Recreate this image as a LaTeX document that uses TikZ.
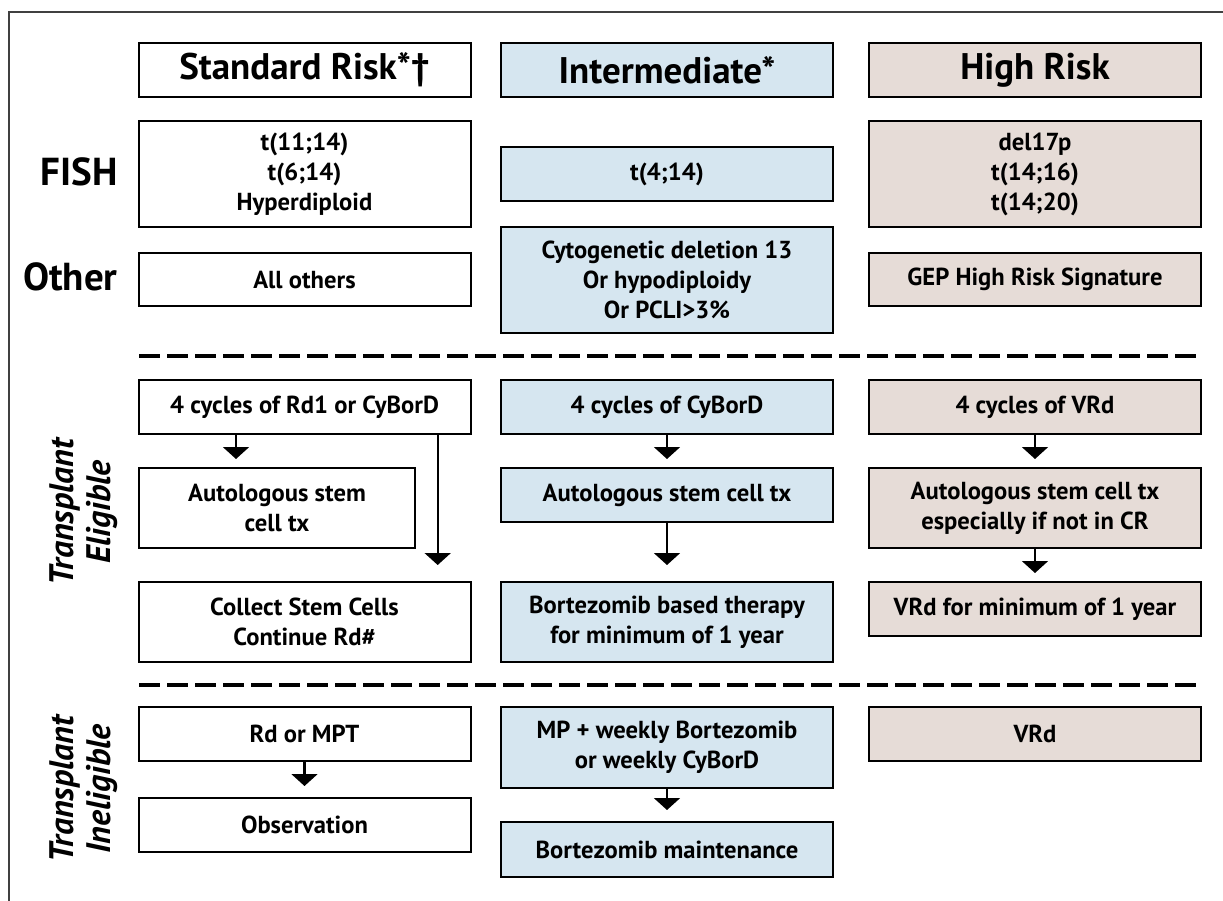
\documentclass[tikz,border=0pt]{standalone}
\usepackage{fontspec}
\setmainfont{PT Sans}
\usetikzlibrary{arrows.meta}

\definecolor{interblue}{RGB}{214,230,240}
\definecolor{highrose}{RGB}{230,220,215}

\tikzset{
  box/.style={draw, line width=1pt, align=center, inner sep=0pt, minimum width=166pt,
    font=\fontsize{12.3}{15}\selectfont\bfseries},
  head/.style={box, minimum height=27pt, font=\fontsize{18.5}{22}\selectfont\bfseries},
  inter/.style={fill=interblue},
  high/.style={fill=highrose},
  flow/.style={-{Triangle[width=13pt,length=6pt]}, line width=1.1pt, shorten >=4pt},
  sep/.style={line width=2pt, dash pattern=on 10.3pt off 3.7pt},
  side/.style={anchor=east, inner sep=0pt, font=\fontsize{19.5}{22}\selectfont\bfseries},
  lane/.style={rotate=90, align=center, inner sep=0pt, font=\fontsize{17}{18.5}\selectfont\bfseries\itshape}
}

\begin{document}
\begin{tikzpicture}[x=0.5pt, y=-0.5pt]
  \useasboundingbox (0,0) rectangle (1223,901);
  \draw[line width=0.6pt, black!75] (9,901) -- (9,12) -- (1223,12);

  % risk groups
  \node[head] (std) at (304.5,70) {Standard Risk*†};
  \node[head, inter] (int) at (667,70) {Intermediate*};
  \node[head, high] (hig) at (1035,70) {High Risk};

  % FISH and other findings
  \node[side] (fish) at (118,172) {FISH};
  \node[side] (other) at (118,277) {Other};
  \node[box, minimum height=53pt] (fishstd) at (304.5,174) {t(11;14)\\t(6;14)\\Hyperdiploid};
  \node[box, inter, minimum height=27pt] (fishint) at (667,174) {t(4;14)};
  \node[box, high, minimum height=53pt] (fishhig) at (1035,174) {del17p\\t(14;16)\\t(14;20)};
  \node[box, minimum height=26.5pt] (othstd) at (304.5,279.5) {All others};
  \node[box, inter, minimum height=53pt] (othint) at (667,280) {Cytogenetic deletion 13\\Or hypodiploidy\\Or PCLI>3\%};
  \node[box, high, minimum height=26.5pt] (othhig) at (1035,279.5) {GEP High Risk Signature};

  \draw[sep] (139,356) -- (1201,356);

  % transplant eligible
  \node[lane] (elig) at (84,512) {Transplant\\Eligible};
  \node[box, minimum height=27pt] (testd) at (304.5,407) {4 cycles of Rd1 or CyBorD};
  \node[box, minimum height=40pt, minimum width=138pt] (testdb) at (277,508) {Autologous stem\\cell tx};
  \node[box, minimum height=40pt] (testdc) at (304.5,622) {Collect Stem Cells\\Continue Rd\#};
  \node[box, inter, minimum height=27pt] (teint) at (667,407) {4 cycles of CyBorD};
  \node[box, inter, minimum height=27pt] (teintb) at (667,495) {Autologous stem cell tx};
  \node[box, inter, minimum height=40pt] (teintc) at (667,622) {Bortezomib based therapy\\for minimum of 1 year};
  \node[box, high, minimum height=27pt] (tehig) at (1035,407) {4 cycles of VRd};
  \node[box, high, minimum height=40pt] (tehigb) at (1035,508) {Autologous stem cell tx\\especially if not in CR};
  \node[box, high, minimum height=27pt] (tehigc) at (1035,609) {VRd for minimum of 1 year};

  \coordinate (stdshort) at (236,0);
  \coordinate (stdlong) at (437.7,0);
  \draw[flow] (testd.south -| stdshort) -- (testdb.north -| stdshort);
  \draw[flow, shorten >=8pt] (testd.south -| stdlong) -- (testdc.north -| stdlong);
  \draw[flow] (teint.south) -- (teintb.north);
  \draw[flow, shorten >=8pt] (teintb.south) -- (teintc.north);
  \draw[flow] (tehig.south) -- (tehigb.north);
  \draw[flow] (tehigb.south) -- (tehigc.north);

  \draw[sep] (139,685) -- (1201,685);

  % transplant ineligible
  \node[lane] (inelig) at (84,789) {Transplant\\Ineligible};
  \node[box, minimum height=27pt] (tistd) at (304.5,734) {Rd or MPT};
  \node[box, minimum height=27pt] (tistdb) at (304.5,825) {Observation};
  \node[box, inter, minimum height=40.5pt] (tiint) at (667,747.5) {MP + weekly Bortezomib\\or weekly CyBorD};
  \node[box, inter, minimum height=27.5pt] (tiintb) at (667,849.5) {Bortezomib maintenance};
  \node[box, high, minimum height=27pt] (tihig) at (1035,734) {VRd};

  \draw[flow, shorten >=5.5pt] (tistd.south) -- (tistdb.north);
  \draw[flow, shorten >=5.5pt] (tiint.south) -- (tiintb.north);
\end{tikzpicture}
\end{document}
